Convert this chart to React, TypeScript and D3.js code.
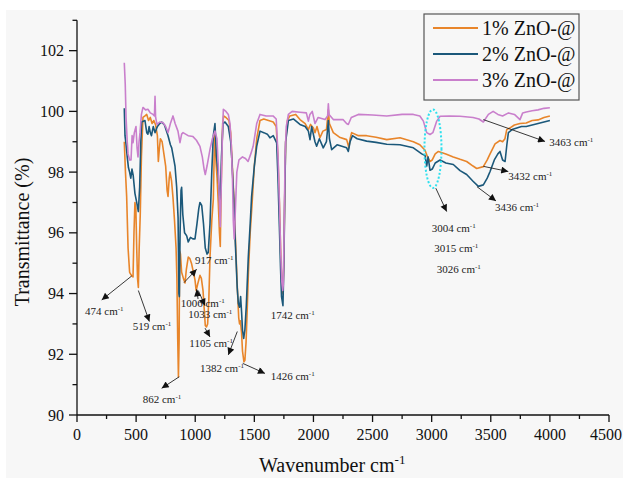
import React from "react";
import * as d3 from "d3";

// ---- data ----
const xTicks = [0, 500, 1000, 1500, 2000, 2500, 3000, 3500, 4000, 4500];
const yTicks = [90, 92, 94, 96, 98, 100, 102];
const seriesNames = ["1% ZnO-@", "2% ZnO-@", "3% ZnO-@"];

// [wavenumber cm-1, transmittance %]
const zno1: [number, number][] = [
  [400, 99.0], [410, 98.0], [420, 97.2], [432, 95.5], [445, 94.7], [460, 94.6], [474, 94.55],
  [482, 96.0], [490, 97.0], [498, 96.8], [505, 95.5], [512, 94.5], [519, 94.2], [526, 95.5],
  [535, 96.6], [545, 98.5], [558, 99.8], [575, 99.85], [590, 99.9], [605, 99.7], [620, 99.8],
  [635, 99.6], [650, 99.7], [665, 99.55], [680, 99.2], [688, 98.35], [695, 98.7], [705, 99.1],
  [720, 99.0], [735, 98.6], [750, 98.2], [762, 97.4], [770, 97.2], [780, 97.8], [787, 98.0],
  [800, 97.7], [812, 97.16], [825, 96.4], [838, 95.5], [845, 94.5], [852, 92.5], [858, 91.25],
  [864, 92.5], [868, 95.4], [875, 95.3], [885, 94.7], [900, 94.5], [914, 94.35], [925, 94.8],
  [941, 95.2], [955, 95.15], [968, 95.0], [985, 94.7], [998, 94.45], [1008, 94.1], [1020, 94.3],
  [1040, 94.6], [1052, 94.5], [1066, 94.1], [1076, 93.5], [1085, 92.95], [1095, 92.9],
  [1105, 93.0], [1115, 93.8], [1125, 95.2], [1140, 96.4], [1153, 97.1], [1160, 98.5],
  [1168, 99.4], [1176, 98.3], [1185, 97.8], [1195, 97.0], [1205, 96.0], [1212, 95.55],
  [1220, 97.6], [1232, 99.6], [1240, 99.85], [1260, 99.8], [1285, 99.7], [1300, 99.3],
  [1310, 98.5], [1325, 97.3], [1340, 95.8], [1355, 94.3], [1368, 93.2], [1375, 93.0],
  [1382, 93.1], [1392, 92.7], [1400, 92.1], [1412, 91.75], [1420, 91.8], [1430, 92.4],
  [1440, 93.5], [1450, 94.7], [1465, 96.0], [1480, 96.9], [1500, 98.2], [1520, 99.1],
  [1548, 99.7], [1580, 99.75], [1620, 99.7], [1660, 99.65], [1685, 99.5], [1700, 98.5],
  [1712, 97.0], [1722, 95.5], [1730, 94.5], [1736, 94.1], [1742, 94.0], [1750, 95.2],
  [1758, 97.5], [1765, 99.0], [1780, 99.7], [1800, 99.85], [1850, 99.9], [1886, 99.73],
  [1930, 99.6], [1957, 99.4], [1975, 99.57], [2000, 99.45], [2013, 99.3], [2030, 99.5],
  [2055, 99.13], [2080, 99.35], [2110, 99.4], [2126, 100.05], [2135, 99.6], [2168, 99.3],
  [2220, 99.15], [2281, 99.07], [2300, 98.8], [2310, 99.1], [2323, 99.3], [2380, 99.2],
  [2450, 99.2], [2530, 99.15], [2620, 99.07], [2732, 99.13], [2845, 99.0], [2900, 98.9],
  [2944, 98.72], [2965, 98.5], [2986, 98.35], [3005, 98.4], [3030, 98.6], [3057, 98.68],
  [3120, 98.6], [3183, 98.5], [3240, 98.42], [3296, 98.35], [3350, 98.2], [3381, 98.12],
  [3437, 98.18], [3470, 98.4], [3494, 98.6], [3536, 98.93], [3578, 99.04], [3600, 99.0],
  [3620, 99.1], [3635, 99.4], [3660, 99.45], [3700, 99.55], [3747, 99.6], [3800, 99.62],
  [3850, 99.7], [3900, 99.72], [3950, 99.8], [4000, 99.85],
];

const zno2: [number, number][] = [
  [400, 100.1], [406, 99.2], [415, 98.9], [425, 98.5], [435, 98.15], [445, 98.0], [455, 97.8],
  [465, 98.1], [475, 97.9], [490, 97.3], [505, 97.0], [519, 96.7], [530, 97.5], [540, 99.0],
  [547, 99.65], [575, 99.7], [590, 99.3], [600, 99.25], [610, 99.5], [620, 99.3], [630, 99.2],
  [645, 99.5], [660, 99.3], [680, 99.5], [700, 99.6], [716, 99.65], [740, 99.55], [770, 99.2],
  [790, 98.9], [801, 98.8], [815, 98.5], [829, 98.2], [843, 97.5], [855, 96.5], [862, 94.0],
  [866, 93.9], [872, 96.0], [880, 97.4], [885, 97.5], [895, 96.6], [910, 96.0], [928, 95.9],
  [941, 95.7], [960, 95.85], [980, 95.8], [998, 95.8], [1015, 96.3], [1030, 96.8], [1040, 97.0],
  [1055, 96.9], [1070, 96.3], [1085, 95.5], [1100, 95.3], [1110, 95.35], [1125, 96.3],
  [1140, 98.0], [1153, 99.2], [1167, 99.6], [1180, 98.5], [1195, 97.9], [1210, 96.8],
  [1222, 98.5], [1235, 99.6], [1252, 99.65], [1280, 99.5], [1300, 99.0], [1310, 98.4],
  [1325, 97.2], [1340, 95.6], [1355, 94.2], [1365, 93.67], [1375, 93.55], [1384, 93.9],
  [1392, 93.4], [1400, 92.8], [1410, 92.52], [1420, 92.8], [1432, 93.6], [1449, 95.2],
  [1465, 96.3], [1477, 97.2], [1500, 98.2], [1520, 98.85], [1548, 99.35], [1580, 99.3],
  [1610, 99.25], [1632, 99.13], [1660, 99.2], [1689, 98.96], [1700, 97.8], [1712, 96.2],
  [1722, 94.8], [1730, 93.9], [1742, 93.6], [1750, 95.0], [1758, 97.4], [1765, 99.0],
  [1788, 99.7], [1830, 99.75], [1886, 99.57], [1930, 99.5], [1957, 99.35], [1971, 99.07],
  [1985, 99.5], [2013, 99.0], [2027, 98.85], [2050, 99.1], [2083, 98.8], [2110, 99.0],
  [2126, 99.7], [2135, 99.1], [2154, 98.74], [2200, 98.9], [2281, 98.8], [2295, 98.68],
  [2310, 99.0], [2330, 99.2], [2370, 99.1], [2450, 99.02], [2530, 98.98], [2620, 98.92],
  [2732, 98.9], [2845, 98.8], [2916, 98.6], [2944, 98.55], [2958, 98.2], [2970, 98.5],
  [2986, 98.06], [3005, 98.1], [3030, 98.3], [3071, 98.4], [3120, 98.3], [3183, 98.25],
  [3240, 98.05], [3296, 97.92], [3350, 97.7], [3395, 97.53], [3437, 97.58], [3470, 97.8],
  [3494, 98.02], [3530, 98.4], [3560, 98.6], [3578, 98.68], [3600, 98.4], [3621, 98.35],
  [3636, 98.9], [3649, 99.3], [3680, 99.4], [3720, 99.45], [3760, 99.5], [3800, 99.5],
  [3850, 99.55], [3900, 99.6], [3950, 99.65], [4000, 99.7],
];

const zno3: [number, number][] = [
  [400, 101.6], [408, 100.9], [415, 99.8], [425, 99.0], [432, 98.6], [445, 98.4], [457, 98.4],
  [466, 99.2], [474, 98.97], [485, 99.3], [499, 99.5], [508, 98.8], [516, 98.5], [525, 99.0],
  [533, 99.3], [545, 99.9], [558, 100.13], [580, 100.05], [600, 100.07], [620, 99.95],
  [643, 99.9], [655, 99.85], [660, 100.5], [665, 99.8], [677, 99.57], [700, 99.65], [728, 99.63],
  [750, 99.5], [770, 99.3], [790, 99.6], [812, 99.85], [830, 99.6], [854, 99.35], [871, 98.97],
  [885, 99.25], [897, 99.3], [940, 99.2], [981, 99.17], [1010, 99.05], [1040, 98.85],
  [1060, 98.5], [1075, 98.1], [1085, 97.92], [1100, 98.2], [1125, 98.75], [1145, 99.1],
  [1167, 99.35], [1184, 99.1], [1195, 98.2], [1205, 96.9], [1212, 96.2], [1220, 97.5],
  [1230, 99.2], [1238, 100.07], [1260, 100.0], [1280, 99.9], [1294, 99.6], [1305, 98.9],
  [1315, 97.8], [1322, 96.4], [1330, 95.8], [1338, 96.6], [1352, 98.0], [1370, 98.4],
  [1400, 98.5], [1425, 98.45], [1447, 98.35], [1470, 98.6], [1490, 98.85], [1520, 99.6],
  [1548, 99.9], [1600, 99.85], [1658, 99.85], [1685, 99.75], [1700, 98.6], [1712, 97.0],
  [1722, 95.5], [1732, 94.4], [1740, 94.1], [1745, 94.3], [1752, 96.0], [1760, 98.5],
  [1770, 99.5], [1788, 99.9], [1820, 100.0], [1886, 99.97], [1940, 99.95], [1957, 99.68],
  [1970, 99.9], [1990, 100.0], [2013, 99.6], [2040, 99.8], [2098, 99.73], [2120, 99.85],
  [2126, 100.25], [2132, 99.9], [2168, 99.73], [2250, 99.73], [2280, 99.6], [2295, 99.57],
  [2320, 99.8], [2380, 99.9], [2500, 99.88], [2620, 99.85], [2750, 99.9], [2845, 99.9],
  [2900, 99.85], [2930, 99.68], [2958, 99.3], [2986, 99.24], [3010, 99.3], [3043, 99.68],
  [3071, 99.84], [3150, 99.85], [3240, 99.84], [3350, 99.8], [3400, 99.75], [3437, 99.65],
  [3480, 99.9], [3520, 100.0], [3560, 99.9], [3600, 99.85], [3650, 99.95], [3700, 99.9],
  [3747, 99.73], [3770, 99.95], [3800, 99.98], [3850, 100.02], [3900, 100.05], [3950, 100.1],
  [4000, 100.12],
];

const seriesColors = ["#e8852a", "#1b587a", "#c97fcc"];

// peak labels: arrow from -> to, text at (data units)
const annotations = [
  { label: "474", from: [463, 94.58], to: [209, 93.79], at: [68, 93.3] },
  { label: "519", from: [519, 94.1], to: [612, 93.08], at: [471, 92.8] },
  { label: "862", from: [865, 91.26], to: [716, 90.88], at: [556, 90.4] },
  { label: "917", from: [905, 94.36], to: [1012, 94.8], at: [998, 94.98] },
  { label: "1006", from: [1024, 93.82], to: [1012, 94.14], at: [877, 93.57] },
  { label: "1033", from: [1026, 94.1], to: [1083, 93.6], at: [941, 93.19] },
  { label: "1105", from: [1083, 92.86], to: [1125, 92.57], at: [950, 92.25] },
  { label: "1382", from: [1356, 92.75], to: [1280, 91.98], at: [1040, 91.43] },
  { label: "1426", from: [1402, 91.7], to: [1590, 91.37], at: [1638, 91.15] },
  { label: "1742", from: null, to: null, at: [1638, 93.16] },
  { label: "3004", from: [3035, 97.47], to: [3127, 96.7], at: [3000, 96.04] },
  { label: "3015", from: null, to: null, at: [3022, 95.38] },
  { label: "3026", from: null, to: null, at: [3043, 94.69] },
  { label: "3436", from: [3383, 97.52], to: [3544, 97.05], at: [3536, 96.73] },
  { label: "3432", from: [3437, 98.19], to: [3648, 98.02], at: [3648, 97.75] },
  { label: "3463", from: [3437, 99.73], to: [3959, 99.01], at: [3995, 98.85] },
];

const W = 623;
const H = 478;
const font = "Liberation Serif, Times New Roman, DejaVu Serif, serif";

const App = () => {
  const x = d3.scaleLinear().domain([0, 4500]).range([77, 609]);
  const y = d3.scaleLinear().domain([90, 103]).range([415, 20.3]);
  const line = d3
    .line<[number, number]>()
    .x((d) => x(d[0]))
    .y((d) => y(d[1]));

  const series = [zno1, zno2, zno3];
  const xMinor = d3.range(250, 4500, 500);
  const yMinor = d3.range(91, 104, 2);

  return (
    <div style={{ position: "fixed", left: 0, top: 0 }}>
      <svg width={W} height={H} style={{ display: "block" }}>
        <defs>
          <marker
            id="arr"
            viewBox="0 0 10 10"
            refX="10"
            refY="5"
            markerWidth="9"
            markerHeight="7"
            markerUnits="userSpaceOnUse"
            orient="auto"
          >
            <path d="M0,0 L10,5 L0,10 z" fill="#111" />
          </marker>
        </defs>
        <rect width={W} height={H} fill="#fff" />
        <rect x={6} y={10} width={W - 6} height={H - 10} fill="#f7f7f7" />

        {/* series */}
        {series.map((s, i) => (
          <path
            key={i}
            d={line(s) || ""}
            fill="none"
            stroke={seriesColors[i]}
            strokeWidth={1.6}
            strokeLinejoin="round"
          />
        ))}

        {/* axes */}
        <g stroke="#111" strokeWidth={1.3}>
          <line x1={x(0)} x2={x(0)} y1={y(103)} y2={y(90)} />
          <line x1={x(0)} x2={x(4500)} y1={y(90)} y2={y(90)} />
          {xTicks.map((t) => (
            <line key={"xt" + t} x1={x(t)} x2={x(t)} y1={y(90)} y2={y(90) + 7} />
          ))}
          {xMinor.map((t) => (
            <line key={"xm" + t} x1={x(t)} x2={x(t)} y1={y(90)} y2={y(90) + 4} />
          ))}
          {yTicks.map((t) => (
            <line key={"yt" + t} x1={x(0) - 8} x2={x(0)} y1={y(t)} y2={y(t)} />
          ))}
          {yMinor.map((t) => (
            <line key={"ym" + t} x1={x(0) - 4.5} x2={x(0)} y1={y(t)} y2={y(t)} />
          ))}
        </g>
        <g fontSize={16} fill="#111" fontFamily={font}>
          {xTicks.map((t, i) => (
            <text
              key={"xl" + t}
              x={x(t)}
              dx={i === xTicks.length - 1 ? -3 : 0}
              y={440}
              textAnchor="middle"
            >
              {t}
            </text>
          ))}
          {yTicks.map((t) => (
            <text key={"yl" + t} x={64} y={y(t) + 5.5} textAnchor="end">
              {t}
            </text>
          ))}
        </g>
        <text x={259} y={472} fontSize={20} fill="#111" fontFamily={font}>
          Wavenumber cm
          <tspan dy={-8} fontSize={13}>
            -1
          </tspan>
        </text>
        <text
          transform="translate(29,232) rotate(-90)"
          fontSize={20}
          textAnchor="middle"
          fill="#111"
          fontFamily={font}
        >
          Transmittance (%)
        </text>

        {/* ellipse around 3000 region */}
        <ellipse
          cx={x(3011)}
          cy={y(98.77)}
          rx={x(72) - x(0)}
          ry={y(90) - y(91.29)}
          fill="none"
          stroke="#2fe0ee"
          strokeWidth={2}
          strokeDasharray="2 2"
        />

        {/* annotations */}
        {annotations.map((a, i) => (
          <g key={"an" + i}>
            {a.from && a.to && (
              <line
                x1={x(a.from[0])}
                y1={y(a.from[1])}
                x2={x(a.to[0])}
                y2={y(a.to[1])}
                stroke="#222"
                strokeWidth={0.9}
                markerEnd="url(#arr)"
              />
            )}
            <text x={x(a.at[0])} y={y(a.at[1])} fontSize={11} fill="#222" fontFamily={font}>
              {a.label} cm
              <tspan dy={-4} fontSize={7}>
                -1
              </tspan>
            </text>
          </g>
        ))}

        {/* legend */}
        <rect x={424} y={14} width={155} height={86} fill="#f7f7f7" stroke="#555" strokeWidth={1.2} />
        {seriesNames.map((n, i) => (
          <g key={n}>
            <line
              x1={433}
              x2={478}
              y1={28 + i * 26}
              y2={28 + i * 26}
              stroke={seriesColors[i]}
              strokeWidth={1.8}
            />
            <text x={482} y={35 + i * 26} fontSize={20} fill="#111" fontFamily={font}>
              {n}
            </text>
          </g>
        ))}
      </svg>
    </div>
  );
};

export default App;
